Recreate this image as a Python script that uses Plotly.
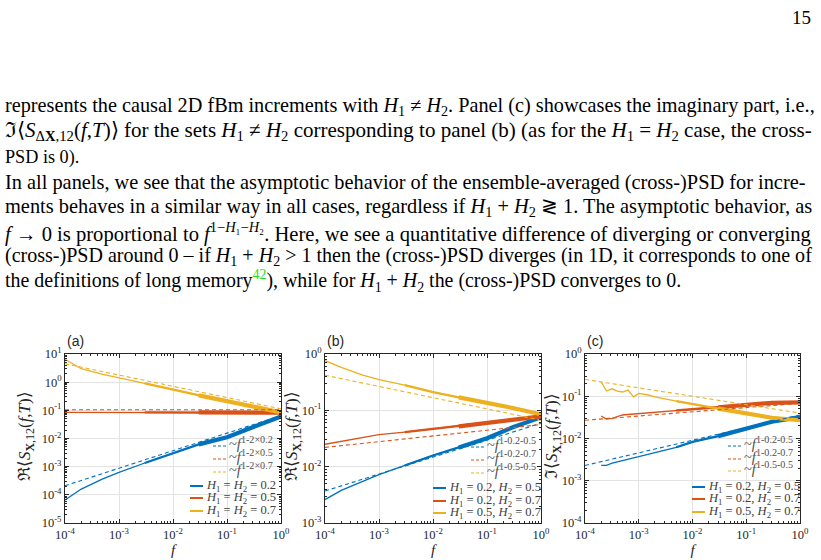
import plotly.graph_objects as go

# ---------------- data ----------------
f_grid = [1e-4, 2e-4, 5e-4, 1e-3, 3e-3, 1e-2, 3e-2, 1e-1, 3e-1, 1.0]
fit_f = [1e-4, 1.0]

# panel (a): real part, H1 = H2
a_H02 = [6.6e-5, 1.6e-4, 3.7e-4, 6.3e-4, 1.35e-3, 3.1e-3, 6.2e-3, 0.011, 0.025, 0.06]
a_H05 = [0.084, 0.084, 0.084, 0.084, 0.084, 0.084, 0.084, 0.084, 0.083, 0.082]
a_H07 = [6.5, 3.0, 1.9, 1.45, 0.9, 0.55, 0.34, 0.21, 0.13, 0.085]
a_fit02 = [2.1e-4, 0.065]
a_fit05 = [0.105, 0.105]
a_fit07 = [4.5, 0.113]

# panel (b): real part, H1 != H2
b_25 = [2.6e-3, 3.8e-3, 5.5e-3, 7.2e-3, 0.0105, 0.0158, 0.022, 0.032, 0.05, 0.075]
b_27 = [0.025, 0.028, 0.033, 0.037, 0.041, 0.047, 0.052, 0.06, 0.068, 0.078]
b_57 = [0.76, 0.58, 0.42, 0.35, 0.28, 0.21, 0.17, 0.137, 0.11, 0.085]
b_fit25 = [3.7e-3, 0.059]
b_fit27 = [0.022, 0.056]
b_fit55 = [0.42, 0.067]

# panel (c): imaginary part, H1 != H2 (starts later, noisy at low f)
f_c = [2e-4, 2.5e-4, 3.2e-4, 4e-4, 5e-4, 6.3e-4, 8e-4, 1e-3, 1.5e-3, 2e-3,
       5e-3, 1e-2, 3e-2, 1e-1, 3e-1, 1.0]
c_25 = [2.3e-3, 2.3e-3, 2.6e-3, 2.8e-3, 3.1e-3, 3.3e-3, 3.5e-3, 3.7e-3, 4.2e-3, 4.6e-3,
        6.2e-3, 8.3e-3, 0.0114, 0.017, 0.025, 0.032]
c_27 = [0.034, 0.029, 0.03, 0.033, 0.036, 0.037, 0.038, 0.039, 0.041, 0.042,
        0.046, 0.049, 0.055, 0.062, 0.07, 0.072]
c_57 = [0.22, 0.133, 0.15, 0.133, 0.126, 0.14, 0.097, 0.117, 0.107, 0.097,
        0.077, 0.065, 0.051, 0.039, 0.031, 0.027]
c_fit25 = [2.3e-3, 0.036]
c_fit27 = [0.027, 0.068]
c_fit55 = [0.25, 0.04]

# frequencies above which the simulated curves thicken into a noisy band
band_start_1 = 3e-3
band_start_2 = 3e-2

# tick labels
x_tickvals = [1e-4, 1e-3, 1e-2, 1e-1, 1.0]
x_ticktext = ["10<sup>-4</sup>", "10<sup>-3</sup>", "10<sup>-2</sup>", "10<sup>-1</sup>", "10<sup>0</sup>"]
ya_tickvals = [1e-5, 1e-4, 1e-3, 1e-2, 1e-1, 1.0, 10.0]
ya_ticktext = ["10<sup>-5</sup>", "10<sup>-4</sup>", "10<sup>-3</sup>", "10<sup>-2</sup>",
               "10<sup>-1</sup>", "10<sup>0</sup>", "10<sup>1</sup>"]
yb_tickvals = [1e-3, 1e-2, 1e-1, 1.0]
yb_ticktext = ["10<sup>-3</sup>", "10<sup>-2</sup>", "10<sup>-1</sup>", "10<sup>0</sup>"]
yc_tickvals = [1e-4, 1e-3, 1e-2, 1e-1, 1.0]
yc_ticktext = ["10<sup>-4</sup>", "10<sup>-3</sup>", "10<sup>-2</sup>", "10<sup>-1</sup>", "10<sup>0</sup>"]

# legend labels
a_fit_labels = ["~<i>f</i><sup>1-2×0.2</sup>", "~<i>f</i><sup>1-2×0.5</sup>", "~<i>f</i><sup>1-2×0.7</sup>"]
a_labels = ["<i>H</i><sub>1</sub> = <i>H</i><sub>2</sub> = 0.2",
            "<i>H</i><sub>1</sub> = <i>H</i><sub>2</sub> = 0.5",
            "<i>H</i><sub>1</sub> = <i>H</i><sub>2</sub> = 0.7"]
bc_fit_labels = ["~<i>f</i><sup>1-0.2-0.5</sup>", "~<i>f</i><sup>1-0.2-0.7</sup>", "~<i>f</i><sup>1-0.5-0.5</sup>"]
bc_labels = ["<i>H</i><sub>1</sub> = 0.2, <i>H</i><sub>2</sub> = 0.5",
             "<i>H</i><sub>1</sub> = 0.2, <i>H</i><sub>2</sub> = 0.7",
             "<i>H</i><sub>1</sub> = 0.5, <i>H</i><sub>2</sub> = 0.7"]

body_lines = [
    "represents the causal 2D fBm increments with <i>H</i><sub>1</sub> ≠ <i>H</i><sub>2</sub>. Panel (c) showcases the imaginary part, i.e.,",
    "ℑ⟨<i>S</i><sub>Δ<b>X</b>,12</sub>(<i>f</i>,<i>T</i>)⟩ for the sets <i>H</i><sub>1</sub> ≠ <i>H</i><sub>2</sub> corresponding to panel (b) (as for the <i>H</i><sub>1</sub> = <i>H</i><sub>2</sub> case, the cross-",
    "PSD is 0).",
    "In all panels, we see that the asymptotic behavior of the ensemble-averaged (cross-)PSD for incre-",
    "ments behaves in a similar way in all cases, regardless if <i>H</i><sub>1</sub> + <i>H</i><sub>2</sub> ≷ 1. The asymptotic behavior, as",
    "<i>f</i> → 0 is proportional to <i>f</i><sup>1−<i>H</i>₁−<i>H</i>₂</sup>. Here, we see a quantitative difference of diverging or converging",
    "(cross-)PSD around 0 – if <i>H</i><sub>1</sub> + <i>H</i><sub>2</sub> &gt; 1 then the (cross-)PSD diverges (in 1D, it corresponds to one of",
    "the definitions of long memory<sup><span style='color:#22dd22'>42</span></sup>), while for <i>H</i><sub>1</sub> + <i>H</i><sub>2</sub> the (cross-)PSD converges to 0.",
]
body_y = [106, 131, 157, 183, 207, 232, 257, 281]
body_size = [20.25, 21.0, 18.2, 20.35, 20.4, 20.6, 20.05, 19.9]

# ---------------- styling ----------------
W, H = 821, 560
BLUE, RED, YEL = "#0072BD", "#D95319", "#EDB120"
SERIF = "Liberation Serif"
AX = "#262626"


def px(x):
    return x / W


def py(y):
    return 1 - y / H


fig = go.Figure()


def add_panel(xref, yref, fx, series, fits, colors):
    for vals, col in zip(series, colors):
        fig.add_trace(go.Scatter(x=fx, y=vals, mode="lines", xaxis=xref, yaxis=yref,
                                 line=dict(color=col, width=1.3), showlegend=False,
                                 hoverinfo="skip"))
        for start, wd in [(band_start_1, 2.3), (band_start_2, 4.2)]:
            bx = [f for f in fx if f >= start]
            by = [v for f, v in zip(fx, vals) if f >= start]
            fig.add_trace(go.Scatter(x=bx, y=by, mode="lines", xaxis=xref, yaxis=yref,
                                     line=dict(color=col, width=wd), showlegend=False,
                                     hoverinfo="skip"))
    for vals, col in zip(fits, colors):
        fig.add_trace(go.Scatter(x=fit_f, y=vals, mode="lines", xaxis=xref, yaxis=yref,
                                 line=dict(color=col, width=1.1, dash="4px,3px"),
                                 showlegend=False, hoverinfo="skip"))


add_panel("x", "y", f_grid, [a_H02, a_H05, a_H07], [a_fit02, a_fit05, a_fit07], [BLUE, RED, YEL])
add_panel("x2", "y2", f_grid, [b_25, b_27, b_57], [b_fit25, b_fit27, b_fit55], [BLUE, RED, YEL])
add_panel("x3", "y3", f_c, [c_25, c_27, c_57], [c_fit25, c_fit27, c_fit55], [BLUE, RED, YEL])

minor_vals = [m * 10.0 ** e for e in range(-6, 2) for m in range(2, 10)]


def axis(domain, rng, tv, tt, anchor):
    return dict(type="log", domain=domain, range=rng, anchor=anchor,
                tickmode="array", tickvals=tv, ticktext=tt,
                showline=True, linecolor=AX, linewidth=1, mirror="ticks",
                ticks="inside", ticklen=4, tickcolor=AX, tickwidth=1,
                showgrid=True, gridcolor="#e3e3e3", gridwidth=1, zeroline=False,
                tickfont=dict(family=SERIF, size=12.5, color=AX),
                minor=dict(tickmode="array", tickvals=minor_vals, ticks="inside",
                           ticklen=2, tickcolor=AX, showgrid=False))


ydom = [py(523), py(354)]
xdoms = [[px(65), px(281)], [px(325), px(541)], [px(585), px(800)]]

fig.update_layout(
    width=W, height=H, margin=dict(l=0, r=0, t=0, b=0, autoexpand=False),
    paper_bgcolor="white", plot_bgcolor="white", showlegend=False,
    xaxis=axis(xdoms[0], [-4, 0], x_tickvals, x_ticktext, "y"),
    xaxis2=axis(xdoms[1], [-4, 0], x_tickvals, x_ticktext, "y2"),
    xaxis3=axis(xdoms[2], [-4, 0], x_tickvals, x_ticktext, "y3"),
    yaxis=axis(ydom, [-5, 1], ya_tickvals, ya_ticktext, "x"),
    yaxis2=axis(ydom, [-3, 0], yb_tickvals, yb_ticktext, "x2"),
    yaxis3=axis(ydom, [-4, 0], yc_tickvals, yc_ticktext, "x3"),
)
for k in ["xaxis", "xaxis2", "xaxis3"]:
    fig.layout[k].title = dict(text="<i>f</i>", font=dict(family=SERIF, size=15, color=AX), standoff=0)

ann = []
# body text
for txt, yy, sz in zip(body_lines, body_y, body_size):
    ann.append(dict(x=px(3), y=py(yy), xref="paper", yref="paper", xanchor="left", yanchor="middle",
                    text=txt, showarrow=False, font=dict(family=SERIF, size=sz, color="black")))
ann.append(dict(x=px(813), y=py(17), xref="paper", yref="paper", xanchor="right", yanchor="middle",
                text="15", showarrow=False, font=dict(family=SERIF, size=19, color="black")))

# panel labels and y titles
ytitles = ["ℜ⟨<i>S</i><sub><b>X</b>,12</sub>(<i>f</i>,<i>T</i>)⟩",
           "ℜ⟨<i>S</i><sub><b>X</b>,12</sub>(<i>f</i>,<i>T</i>)⟩",
           "ℑ⟨<i>S</i><sub><b>X</b>,12</sub>(<i>f</i>,<i>T</i>)⟩"]
for lab, xl, xt, yt in zip(["(a)", "(b)", "(c)"], [65, 325, 585], [26, 293, 553], ytitles):
    ann.append(dict(x=px(xl), y=py(341), xref="paper", yref="paper", xanchor="left", yanchor="middle",
                    text=lab, showarrow=False, font=dict(family="Liberation Sans", size=14, color=AX)))
    ann.append(dict(x=px(xt), y=py(436), xref="paper", yref="paper", xanchor="center", yanchor="middle",
                    text=yt, textangle=-90, showarrow=False,
                    font=dict(family=SERIF, size=17, color=AX)))

shapes = []


def legend_block(fit_labels, labels, dash_x0, dash_x1, dash_ys, sol_x0, sol_x1, sol_ys):
    for lab, yy, col in zip(fit_labels, dash_ys, [BLUE, RED, YEL]):
        shapes.append(dict(type="line", xref="paper", yref="paper", x0=px(dash_x0), x1=px(dash_x1),
                           y0=py(yy), y1=py(yy), line=dict(color=col, width=1.2, dash="3px,2px")))
        ann.append(dict(x=px(dash_x1 + 1), y=py(yy - 3), xref="paper", yref="paper", xanchor="left",
                        yanchor="middle", text=lab, showarrow=False,
                        font=dict(family=SERIF, size=14.5, color="#505050")))
    for lab, yy, col in zip(labels, sol_ys, [BLUE, RED, YEL]):
        shapes.append(dict(type="line", xref="paper", yref="paper", x0=px(sol_x0), x1=px(sol_x1),
                           y0=py(yy), y1=py(yy), line=dict(color=col, width=2)))
        ann.append(dict(x=px(sol_x1 + 1), y=py(yy), xref="paper", yref="paper", xanchor="left",
                        yanchor="middle", text=lab, showarrow=False,
                        font=dict(family=SERIF, size=12.5, color="#404040")))


legend_block(a_fit_labels, a_labels, 213, 226, [446, 459, 472], 190, 203, [486, 498, 511])
legend_block(bc_fit_labels, bc_labels, 471, 484, [447, 460, 473], 433, 446, [488, 501, 513])
legend_block(bc_fit_labels, bc_labels, 728, 741, [446, 459, 471], 692, 705, [487, 499, 512])

fig.update_layout(annotations=ann, shapes=shapes)
fig.write_html("out.html",
               post_script="document.body.style.margin='0';document.body.style.overflow='hidden';")
